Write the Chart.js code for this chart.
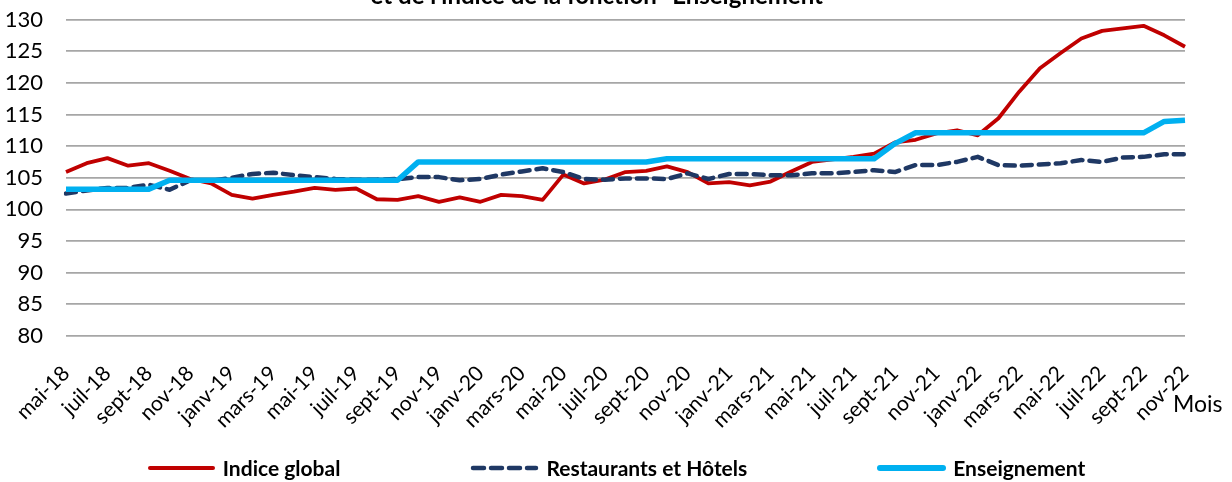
<!DOCTYPE html>
<html>
<head>
<meta charset="utf-8">
<script src="https://cdn.jsdelivr.net/npm/chart.js@4.4.1/dist/chart.umd.min.js"></script>
<style>
html,body{margin:0;padding:0;background:#fff;}
#wrap{position:relative;width:1232px;height:482px;overflow:hidden;background:#fff;}
#c{position:absolute;left:0;top:0;}
#legend{position:absolute;left:0;top:455px;width:1232px;display:flex;justify-content:center;gap:130px;font-family:Lato,"Open Sans",sans-serif;font-weight:bold;font-size:21px;line-height:26px;color:#000;}
#legend .item{display:flex;align-items:center;white-space:nowrap;}
#legend svg{margin-right:7px;display:block;}
</style>
</head>
<body>
<div id="wrap">
<canvas id="c" width="1232" height="482"></canvas>
<div id="legend"></div>
</div>
<script>
// ---- Data ----
const titleText = 'et de l\'indice de la fonction "Enseignement"';
const xAxisTitle = 'Mois';

const months = [
  'mai-18','juin-18','juil-18','août-18','sept-18','oct-18','nov-18','déc-18',
  'janv-19','févr-19','mars-19','avr-19','mai-19','juin-19','juil-19','août-19','sept-19','oct-19','nov-19','déc-19',
  'janv-20','févr-20','mars-20','avr-20','mai-20','juin-20','juil-20','août-20','sept-20','oct-20','nov-20','déc-20',
  'janv-21','févr-21','mars-21','avr-21','mai-21','juin-21','juil-21','août-21','sept-21','oct-21','nov-21','déc-21',
  'janv-22','févr-22','mars-22','avr-22','mai-22','juin-22','juil-22','août-22','sept-22','oct-22','nov-22'
];

const indiceGlobal = [
  105.9,107.3,108.1,106.9,107.3,106.1,104.8,104.1,
  102.3,101.7,102.3,102.8,103.4,103.1,103.3,101.6,101.5,102.1,101.2,101.9,
  101.2,102.3,102.1,101.5,105.5,104.1,104.7,105.9,106.1,106.8,105.9,104.1,
  104.3,103.8,104.4,106.0,107.5,107.9,108.3,108.8,110.6,111.0,112.0,112.5,
  111.7,114.4,118.6,122.3,124.7,127.0,128.2,128.6,129.0,127.5,125.7
];

const restaurantsHotels = [
  102.5,103.0,103.4,103.4,103.9,103.1,104.6,104.5,
  105.0,105.6,105.8,105.4,105.1,104.8,104.7,104.7,104.8,105.1,105.1,104.6,
  104.8,105.5,106.0,106.5,105.9,104.8,104.7,104.9,104.9,104.8,105.7,104.8,
  105.6,105.6,105.4,105.4,105.7,105.7,105.9,106.2,105.9,107.0,107.0,107.5,
  108.3,107.0,106.9,107.1,107.3,107.8,107.5,108.2,108.3,108.7,108.7
];

const enseignement = [
  103.2,103.2,103.2,103.2,103.2,104.6,104.6,104.6,
  104.6,104.6,104.6,104.6,104.6,104.6,104.6,104.6,104.6,107.5,107.5,107.5,
  107.5,107.5,107.5,107.5,107.5,107.5,107.5,107.5,107.5,108.0,108.0,108.0,
  108.0,108.0,108.0,108.0,108.0,108.0,108.0,108.0,110.4,112.1,112.1,112.1,
  112.1,112.1,112.1,112.1,112.1,112.1,112.1,112.1,112.1,113.9,114.1
];

const seriesNames = ['Indice global','Restaurants et Hôtels','Enseignement'];
const yTicks = [80,85,90,95,100,105,110,115,120,125,130];

// ---- Chart ----
const FONT = 'Lato';
const extraText = {
  id: 'extraText',
  afterDraw(chart) {
    const ctx = chart.ctx, a = chart.chartArea;
    ctx.save();
    ctx.fillStyle = '#000';
    ctx.font = 'bold 24px ' + FONT;
    ctx.textAlign = 'center';
    ctx.textBaseline = 'alphabetic';
    ctx.fillText(titleText, (a.left + a.right) / 2 - 24, 4);
    ctx.font = '23px ' + FONT;
    ctx.textAlign = 'left';
    ctx.fillText(xAxisTitle, a.right - 12, a.bottom + 76);
    ctx.restore();
  }
};

const chart = new Chart(document.getElementById('c'), {
  type: 'line',
  data: {
    labels: months,
    datasets: [
      { label: seriesNames[0], data: indiceGlobal, borderColor: '#C00000', backgroundColor: '#C00000',
        borderWidth: 3.8, pointRadius: 0, tension: 0, order: 2, borderJoinStyle: 'round' },
      { label: seriesNames[1], data: restaurantsHotels, borderColor: '#1F3864', backgroundColor: '#1F3864',
        borderWidth: 4.5, borderDash: [10, 7], borderCapStyle: 'round', pointRadius: 0, tension: 0, order: 1, borderJoinStyle: 'round' },
      { label: seriesNames[2], data: enseignement, borderColor: '#00B0F0', backgroundColor: '#00B0F0',
        borderWidth: 5.5, pointRadius: 0, tension: 0, order: 0, borderJoinStyle: 'round' }
    ]
  },
  options: {
    responsive: false,
    animation: false,
    devicePixelRatio: 1,
    layout: { padding: { left: 0, right: 47, top: 19.5, bottom: 46 } },
    plugins: {
      legend: { display: false },
      title: { display: false },
      tooltip: { enabled: false }
    },
    scales: {
      x: {
        grid: { display: false },
        border: { display: false },
        ticks: {
          autoSkip: false, maxRotation: 45, minRotation: 45, padding: 17,
          color: '#000', font: { family: FONT, size: 21 },
          callback: function (v, i) { return i % 2 === 0 ? this.getLabelForValue(v) : null; }
        },
        afterFit: (s) => { s.height = 100; }
      },
      y: {
        min: 80, max: 130,
        afterBuildTicks: (s) => { s.ticks = yTicks.map(v => ({ value: v })); },
        grid: { color: '#A6A6A6', lineWidth: 1.8, drawTicks: true, tickLength: 20, tickColor: 'rgba(0,0,0,0)' },
        border: { display: false },
        ticks: { padding: 3, color: '#000', font: { family: FONT, size: 22 } },
        afterFit: (s) => { s.width = 66; }
      }
    }
  },
  plugins: [extraText]
});

// HTML legend built from the chart's datasets
const legendEl = document.getElementById('legend');
chart.data.datasets.forEach(ds => {
  const item = document.createElement('div');
  item.className = 'item';
  const dash = ds.borderDash ? 'stroke-dasharray="11 7"' : '';
  const sw = ds.label === 'Enseignement' ? 6 : (ds.borderDash ? 4.5 : 4);
  item.innerHTML = '<svg width="69" height="10"><line x1="3" y1="5" x2="66" y2="5" stroke="' + ds.borderColor +
    '" stroke-width="' + sw + '" stroke-linecap="round" ' + dash + '/></svg>';
  const t = document.createElement('span');
  t.textContent = ds.label;
  item.appendChild(t);
  legendEl.appendChild(item);
});
</script>
</body>
</html>
